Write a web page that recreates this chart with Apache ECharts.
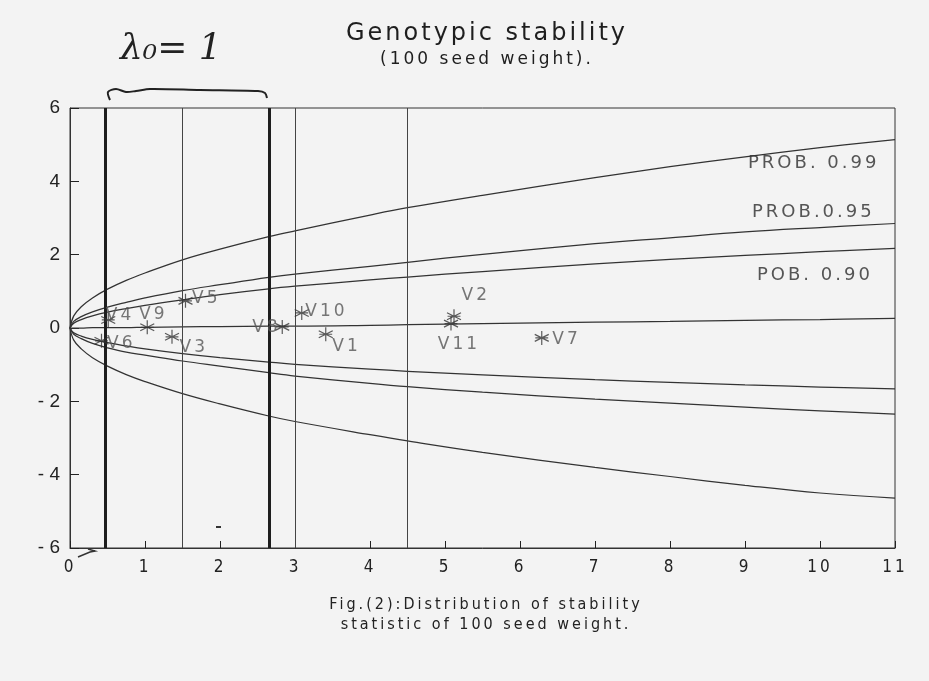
<!DOCTYPE html>
<html>
<head>
<meta charset="utf-8">
<script src="https://cdn.jsdelivr.net/npm/echarts@6/dist/echarts.min.js"></script>
<style>
html,body{margin:0;padding:0;background:#f3f3f3;}
#main{width:929px;height:681px;}
</style>
</head>
<body>
<div id="main"></div>
<script>
// ---- data ----
var curveX  = [0, 0.05, 0.15, 0.3, 0.5, 0.75, 1.0, 1.5, 2.0, 2.65, 3.0, 4.0, 4.5, 5.5, 7.0, 8.0, 9.0, 10.0, 11.0];
var p99Up   = [0, 0.33, 0.58, 0.82, 1.06, 1.30, 1.50, 1.86, 2.15, 2.49, 2.65, 3.08, 3.28, 3.62, 4.10, 4.40, 4.67, 4.92, 5.14];
var p95Up   = [0, 0.18, 0.31, 0.44, 0.57, 0.70, 0.82, 1.02, 1.18, 1.38, 1.47, 1.68, 1.79, 2.01, 2.30, 2.46, 2.62, 2.74, 2.85];
var p90Up   = [0, 0.13, 0.23, 0.33, 0.43, 0.53, 0.62, 0.77, 0.91, 1.07, 1.14, 1.31, 1.39, 1.54, 1.75, 1.87, 1.98, 2.08, 2.17];
var centre  = [0, 0, 0, 0.01, 0.01, 0.01, 0.02, 0.03, 0.04, 0.05, 0.05, 0.07, 0.09, 0.12, 0.16, 0.18, 0.21, 0.23, 0.26];
var p90Low  = [0, -0.13, -0.22, -0.31, -0.40, -0.49, -0.57, -0.70, -0.81, -0.93, -0.99, -1.12, -1.18, -1.28, -1.41, -1.48, -1.55, -1.61, -1.66];
var p95Low  = [0, -0.17, -0.29, -0.42, -0.54, -0.66, -0.74, -0.90, -1.04, -1.22, -1.31, -1.51, -1.60, -1.75, -1.94, -2.05, -2.16, -2.26, -2.35];
var p99Low  = [0, -0.33, -0.57, -0.81, -1.04, -1.27, -1.46, -1.79, -2.07, -2.40, -2.55, -2.91, -3.08, -3.39, -3.80, -4.05, -4.29, -4.50, -4.64];

var varNames = ['V1','V2','V3','V4','V5','V6','V7','V8','V9','V10','V11'];
var varX     = [3.41, 5.12, 1.36, 0.51, 1.54, 0.42, 6.29, 2.83, 1.03, 3.09, 5.08];
var varY     = [-0.17, 0.32, -0.24, 0.22, 0.74, -0.35, -0.27, 0.03, 0.02, 0.41, 0.12];

var thickLines = [0.47, 2.66];
var thinLines  = [1.5, 3.0, 4.5];

// ---- plotter-style letter spacing for the sans texts ----
(function(){
  var proto = window.CanvasRenderingContext2D && CanvasRenderingContext2D.prototype;
  if (!proto || !('letterSpacing' in proto)) return;
  var origFill = proto.fillText, origMeasure = proto.measureText;
  function spacing(font){ return /DejaVu Sans/.test(font) ? '3px' : '0px'; }
  proto.fillText = function(t, x, y, m){
    this.letterSpacing = spacing(this.font);
    return m === undefined ? origFill.call(this, t, x, y) : origFill.call(this, t, x, y, m);
  };
  proto.measureText = function(t){
    this.letterSpacing = spacing(this.font);
    return origMeasure.call(this, t);
  };
})();

// ---- label placement (style only) ----
var labelStyle = {
  V1:  {position:'right', offset:[-3, 12]},
  V2:  {position:'right', offset:[-2, -21]},
  V3:  {position:'right', offset:[-2, 11]},
  V4:  {position:'right', offset:[-12, -4]},
  V5:  {position:'right', offset:[-3, -2]},
  V6:  {position:'right', offset:[-4, 3]},
  V7:  {position:'right', offset:[1, 2]},
  V8:  {position:'left',  offset:[8, 1]},
  V9:  {position:'top',   offset:[6, 7]},
  V10: {position:'right', offset:[-6, -1]},
  V11: {position:'bottom',offset:[8, 1]}
};

function pairs(xs, ys){ return xs.map(function(x,i){ return [x, ys[i]]; }); }

var curveStyle = {color:'#333', width:1.25};
function curve(name, ys){
  return {
    name:name, type:'line', data:pairs(curveX, ys), showSymbol:false,
    smooth:0.4, lineStyle:curveStyle, silent:true, z:2
  };
}

var asterisk = 'path://M10 0 L10 20 M1.3 5 L18.7 15 M1.3 15 L18.7 5 M2 10 L18 10';

var scatterData = varNames.map(function(n,i){
  var s = labelStyle[n];
  return {
    name:n, value:[varX[i], varY[i]],
    label:{show:true, formatter:n, position:s.position, offset:s.offset, distance:2}
  };
});

var vLines = [];
thickLines.forEach(function(v){ vLines.push({xAxis:v, lineStyle:{width:3, color:'#1e1e1e', type:'solid'}}); });
thinLines.forEach(function(v){ vLines.push({xAxis:v, lineStyle:{width:1, color:'#444', type:'solid'}}); });

var chart = echarts.init(document.getElementById('main'), null, {renderer:'canvas'});
var option = {
  backgroundColor:'#f3f3f3',
  animation:false,
  title:{
    text:'Genotypic stability',
    subtext:'(100 seed weight).',
    left:482, top:15, textAlign:'center',
    itemGap:3,
    textStyle:{fontFamily:'DejaVu Sans', fontSize:24, fontWeight:'normal', color:'#1e1e1e'},
    subtextStyle:{fontFamily:'DejaVu Sans', fontSize:17, color:'#1e1e1e'}
  },
  grid:{left:70, right:34, top:108, bottom:133, show:true, borderColor:'#333', borderWidth:1, backgroundColor:'transparent'},
  xAxis:{
    type:'value', min:0, max:11, interval:1,
    axisLine:{show:true, onZero:false, lineStyle:{color:'#333'}},
    axisTick:{show:true, inside:true, length:7, lineStyle:{color:'#222'}},
    splitLine:{show:false},
    axisLabel:{fontFamily:'DejaVu Sans Condensed', fontSize:17, color:'#222', margin:10}
  },
  yAxis:{
    type:'value', min:-6, max:6, interval:2,
    axisLine:{show:true, onZero:false, lineStyle:{color:'#333'}},
    axisTick:{show:true, inside:true, length:9, lineStyle:{color:'#222'}},
    splitLine:{show:false},
    axisLabel:{fontFamily:'Liberation Sans', fontSize:19, color:'#222', margin:10,
      formatter:function(v){ return v < 0 ? '- ' + Math.abs(v) : String(v); }}
  },
  series:[
    curve('PROB. 0.99 up', p99Up),
    curve('PROB. 0.95 up', p95Up),
    curve('PROB. 0.90 up', p90Up),
    curve('centre', centre),
    curve('PROB. 0.90 low', p90Low),
    curve('PROB. 0.95 low', p95Low),
    curve('PROB. 0.99 low', p99Low),
    {
      name:'vlines', type:'line', data:[], silent:true,
      markLine:{symbol:'none', silent:true, label:{show:false}, data:vLines, animation:false}
    },
    {
      name:'varieties', type:'scatter', data:scatterData, symbol:asterisk, symbolSize:14,
      itemStyle:{color:'rgba(0,0,0,0)', borderColor:'#333', borderWidth:1.2},
      label:{fontFamily:'DejaVu Sans', fontSize:17, color:'#555'},
      z:5
    }
  ],
  graphic:[
    {type:'text', x:748, y:153, style:{text:'PROB. 0.99', font:'18px DejaVu Sans', fill:'#555'}},
    {type:'text', x:752, y:202, style:{text:'PROB.0.95', font:'18px DejaVu Sans', fill:'#555'}},
    {type:'text', x:757, y:265, style:{text:'POB. 0.90', font:'18px DejaVu Sans', fill:'#555'}},
    {type:'text', x:486, y:595, style:{text:'Fig.(2):Distribution of stability\nstatistic of 100 seed weight.', font:'16px DejaVu Sans Condensed', fill:'#222', align:'center', textAlign:'center', lineHeight:20}},
    {type:'text', x:120, y:32, style:{text:'\u03bb\u2080= 1', font:'italic 36px DejaVu Serif', fill:'#222'}},
    {type:'polyline', shape:{points:[[110,100],[108,92],[116,89],[126,92],[136,91],[150,89],[200,90],[258,91],[265,93],[267,98]], smooth:0.3}, style:{stroke:'#222', lineWidth:2, fill:null}},
    {type:'polyline', shape:{points:[[78,557],[90,552],[95,551],[88,549]]}, style:{stroke:'#333', lineWidth:1.5, fill:null}},
    {type:'rect', shape:{x:216, y:526, width:5, height:2}, style:{fill:'#333'}}
  ]
};
chart.setOption(option);
</script>
</body>
</html>
